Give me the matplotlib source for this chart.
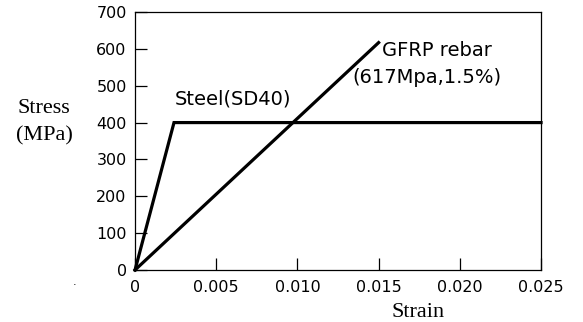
import matplotlib
matplotlib.use("Agg")
import matplotlib.pyplot as plt
from matplotlib.ticker import FixedLocator, FixedFormatter

# Data
steel_strain = [0.0, 0.0024, 0.025]
steel_stress = [0, 400, 400]
gfrp_strain = [0.0, 0.015]
gfrp_stress = [0, 617]

x_ticks = [0, 0.005, 0.010, 0.015, 0.020, 0.025]
x_tick_labels = ["0", "0.005", "0.010", "0.015", "0.020", "0.025"]
y_ticks = [0, 100, 200, 300, 400, 500, 600, 700]
y_tick_labels = ["0", "100", "200", "300", "400", "500", "600", "700"]

fig = plt.figure(figsize=(5.83, 3.22), dpi=100)
ax = fig.add_axes([0.2316, 0.1615, 0.6964, 0.8012])

ax.plot(steel_strain, steel_stress, color="black", lw=2.3, solid_joinstyle="miter", clip_on=False)
ax.plot(gfrp_strain, gfrp_stress, color="black", lw=2.3, clip_on=False)

ax.set_xlim(0, 0.025)
ax.set_ylim(0, 700)
ax.xaxis.set_major_locator(FixedLocator(x_ticks))
ax.xaxis.set_major_formatter(FixedFormatter(x_tick_labels))
ax.yaxis.set_major_locator(FixedLocator(y_ticks))
ax.yaxis.set_major_formatter(FixedFormatter(y_tick_labels))

tick_font = "DejaVu Sans"
ax.tick_params(direction="in", length=8.5, width=0.9, labelsize=11.5, pad=6)
ax.tick_params(axis="x", pad=7)
for lab in ax.get_xticklabels() + ax.get_yticklabels():
    lab.set_fontfamily(tick_font)
for s in ax.spines.values():
    s.set_linewidth(0.9)

ax.text(0.00246, 463, "Steel(SD40)", fontsize=14, family=tick_font, va="center", ha="left")
ax.text(0.01521, 596, "GFRP rebar", fontsize=14, family=tick_font, va="center", ha="left")
ax.text(0.01336, 522, "(617Mpa,1.5%)", fontsize=14, family=tick_font, va="center", ha="left")

fig.text(44 / 583, 1 - 113 / 322, "Stress", fontsize=16, family="Liberation Serif", ha="center", va="baseline")
fig.text(44 / 583, 1 - 140 / 322, "(MPa)", fontsize=16, family="Liberation Serif", ha="center", va="baseline")
fig.text(418 / 583, 1 - 317 / 322, "Strain", fontsize=16, family="Liberation Serif", ha="center", va="baseline")
fig.text(75 / 583, 1 - 282 / 322, ".", fontsize=8, ha="center", va="center")

fig.savefig("out.png", dpi=100)
